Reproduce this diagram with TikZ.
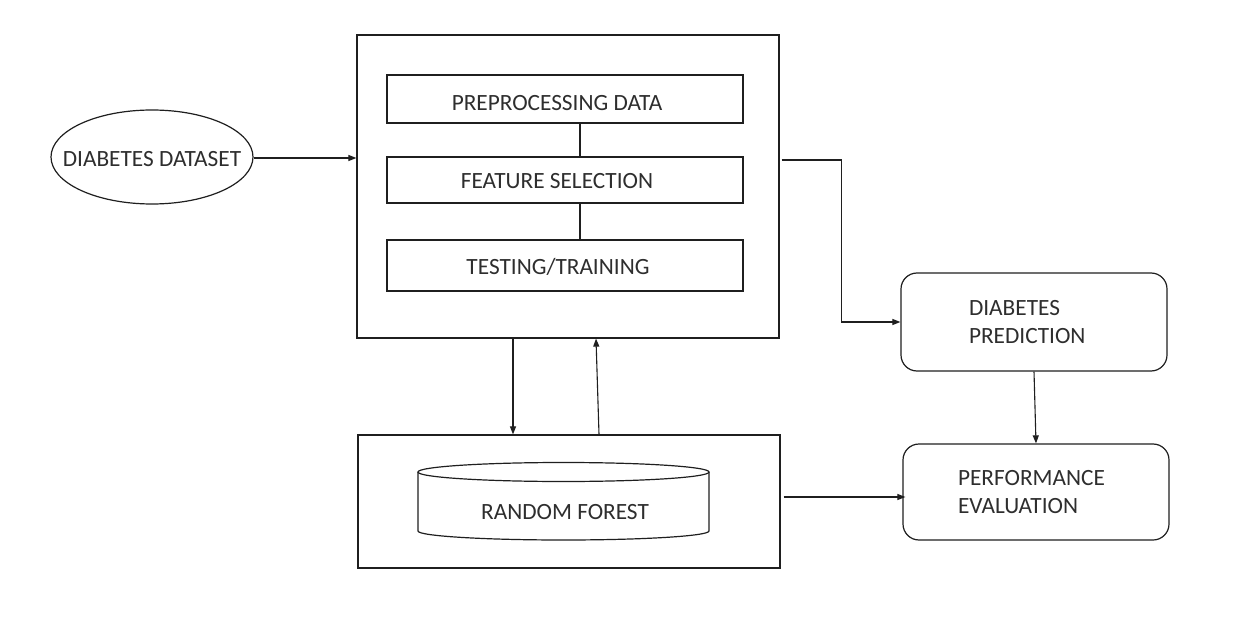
\documentclass[tikz,border=0pt]{standalone}
\usepackage{fontspec}
\setmainfont{Carlito}
\usetikzlibrary{shapes.geometric,arrows.meta}
\begin{document}
\begin{tikzpicture}[x=1pt,y=-1pt,
  base/.style={draw=black!88, line width=1.2pt, inner sep=0pt, text=black!82,
    font=\fontsize{23.3}{28}\selectfont},
  sqbox/.style={base},
  rbox/.style={base, rounded corners=16pt, align=left},
  lbl/.style={text=black!82, font=\fontsize{23.3}{28}\selectfont, inner sep=0pt},
  arr/.style={draw=black!88, line width=1.1pt, -{Triangle[length=8pt,width=6pt]}},
  conn/.style={draw=black!88, line width=1.1pt}]
\useasboundingbox (0,0) rectangle (1252,617);
\fill[white] (0,0) rectangle (1252,617);

% nodes
\node[base, ellipse, minimum width=202pt, minimum height=94pt,
  label={[lbl, yshift=-2pt]center:DIABETES DATASET}] (ds) at (152,157) {};
\node[sqbox, minimum width=422pt, minimum height=303pt] (big) at (568,186.5) {};
\node[sqbox, minimum width=356pt, minimum height=48pt,
  label={[lbl, xshift=-8pt, yshift=-4pt]center:PREPROCESSING DATA}] (pre) at (565,99) {};
\node[sqbox, minimum width=356pt, minimum height=46pt,
  label={[lbl, xshift=-8pt, yshift=-1pt]center:FEATURE SELECTION}] (feat) at (565,180) {};
\node[sqbox, minimum width=356pt, minimum height=51pt,
  label={[lbl, xshift=-7pt, yshift=-1pt]center:TESTING/TRAINING}] (test) at (565,265.5) {};
\node[sqbox, minimum width=422pt, minimum height=133pt] (rfbox) at (569,501.5) {};
% cylinder
\draw[draw=black!88, line width=1.2pt] (563.5,472) ellipse [x radius=145.5pt, y radius=9.5pt];
\draw[draw=black!88, line width=1.2pt] (418,472) -- (418,531) arc[start angle=180, end angle=360, x radius=145.5pt, y radius=9pt] -- (709,472);
\node[lbl] (rf) at (565,512) {RANDOM FOREST};
\node[rbox, minimum width=266pt, minimum height=98pt] (pred) at (1034,322) {\hspace*{-8pt}\parbox{122pt}{DIABETES\\PREDICTION}};
\node[rbox, minimum width=266pt, minimum height=96pt] (perf) at (1036,492) {\hspace*{-4pt}\parbox{152pt}{PERFORMANCE\\EVALUATION}};

% connectors
\draw[arr] ([yshift=-1pt]ds.east) -- ([yshift=-1pt]ds.east -| big.west);
\draw[conn] ([xshift=15pt]pre.south) -- ([xshift=15pt]feat.north);
\draw[conn] ([xshift=15pt]feat.south) -- ([xshift=15pt]test.north);
\draw[arr] ([xshift=-55pt]big.south) -- ([xshift=-55pt]big.south |- rfbox.north);
\draw[arr] ([xshift=30pt]rfbox.north) -- ([xshift=28pt]big.south);
\draw[arr] ([yshift=26.5pt,xshift=2pt]big.east) -- ++(60pt,0pt) |- (pred.west);
\draw[arr] (pred.south) -- (perf.north);
\draw[arr] ([yshift=4.5pt,xshift=3pt]rfbox.east) -- ([yshift=4.5pt,xshift=3pt]rfbox.east -| perf.west);
\end{tikzpicture}
\end{document}
